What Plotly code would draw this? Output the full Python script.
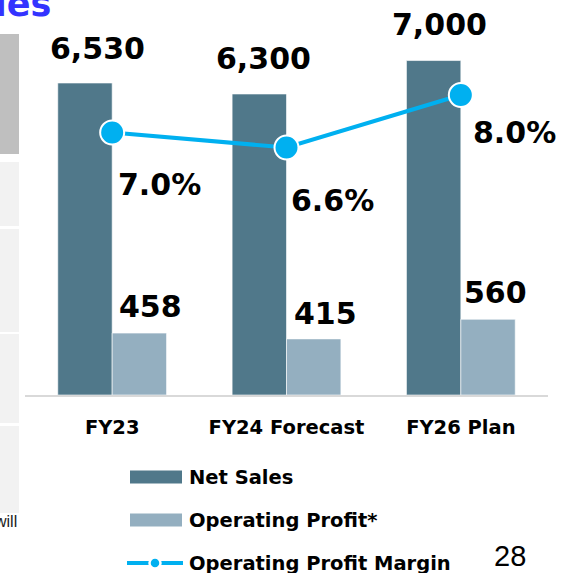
import plotly.graph_objects as go

# --- chart data -------------------------------------------------------------
categories = ["FY23", "FY24 Forecast", "FY26 Plan"]
net_sales = [6530, 6300, 7000]
operating_profit = [458, 415, 560]
op_margin = [7.0, 6.6, 8.0]
sales_labels = ["6,530", "6,300", "7,000"]
profit_labels = ["458", "415", "560"]
margin_labels = ["7.0%", "6.6%", "8.0%"]

# --- styling ----------------------------------------------------------------
W, H = 564, 573
PLOT_L, PLOT_R, PLOT_T, PLOT_B = 25, 548, 10, 395   # plot area in pixels
DARK = "#50788A"
LIGHT = "#94AFC0"
CYAN = "#00B0F0"
FONT = "DejaVu Sans"
BAR_W = 0.312

# label nudges (pixels, relative to category centre / mark top)
sales_dx = [-15, -23, -21]
sales_dy = [35, 35, 36]
profit_dx = [38, 39, 35]
profit_dy = [27, 25, 27]
margin_dx = [47, 46, 54]
margin_dy = [-52, -53, -37]


def px2x(px):
    return (px - PLOT_L) / (PLOT_R - PLOT_L)


def px2y(py):
    return (PLOT_B - py) / (PLOT_B - PLOT_T)


plot_h = PLOT_B - PLOT_T
sales_max = plot_h / 0.04778
profit_max = plot_h / 0.1352
margin_max = plot_h / 37.5

fig = go.Figure()

fig.add_trace(go.Bar(
    x=categories, y=net_sales, name="Net Sales",
    width=BAR_W, offset=-BAR_W,
    marker=dict(color=DARK, line=dict(color="white", width=0.6)),
    yaxis="y",
))
fig.add_trace(go.Bar(
    x=categories, y=operating_profit, name="Operating Profit*",
    width=BAR_W, offset=0,
    marker=dict(color=LIGHT, line=dict(color="white", width=0.6)),
    yaxis="y2",
))
fig.add_trace(go.Scatter(
    x=categories, y=op_margin, name="Operating Profit Margin",
    mode="lines+markers",
    line=dict(color=CYAN, width=4),
    marker=dict(size=24, color=CYAN, line=dict(color="white", width=2)),
    cliponaxis=False,
    yaxis="y3",
))

annotations = []
label_font = dict(family=FONT, size=30, color="black", weight="bold")
for i, cat in enumerate(categories):
    annotations.append(dict(
        x=cat, y=net_sales[i], xref="x", yref="y", text=sales_labels[i],
        showarrow=False, font=label_font, xanchor="center", yanchor="middle",
        xshift=sales_dx[i], yshift=sales_dy[i]))
    annotations.append(dict(
        x=cat, y=operating_profit[i], xref="x", yref="y2", text=profit_labels[i],
        showarrow=False, font=label_font, xanchor="center", yanchor="middle",
        xshift=profit_dx[i], yshift=profit_dy[i]))
    annotations.append(dict(
        x=cat, y=op_margin[i], xref="x", yref="y3", text=margin_labels[i],
        showarrow=False, font=label_font, xanchor="center", yanchor="middle",
        xshift=margin_dx[i], yshift=margin_dy[i]))

# legend, drawn below the axis
legend_font = dict(family=FONT, size=19.5, color="black", weight="bold")
shapes = []
legend_rows = [("Net Sales", 477, DARK), ("Operating Profit*", 520, LIGHT)]
for text, yc, col in legend_rows:
    shapes.append(dict(type="rect", xref="paper", yref="paper",
                       x0=px2x(130), x1=px2x(182), y0=px2y(yc - 6.5), y1=px2y(yc + 6.5),
                       fillcolor=col, line=dict(width=0)))
    annotations.append(dict(x=px2x(187), y=px2y(yc), xref="paper", yref="paper",
                            text=text, showarrow=False, font=legend_font,
                            xanchor="left", yanchor="middle"))
yc = 563
shapes.append(dict(type="line", xref="paper", yref="paper",
                   x0=px2x(127), x1=px2x(183), y0=px2y(yc), y1=px2y(yc),
                   line=dict(color=CYAN, width=4)))
shapes.append(dict(type="circle", xref="paper", yref="paper",
                   x0=px2x(149.5), x1=px2x(160.5), y0=px2y(yc + 5.5), y1=px2y(yc - 5.5),
                   fillcolor=CYAN, line=dict(color="white", width=2.5)))
annotations.append(dict(x=px2x(187), y=px2y(yc), xref="paper", yref="paper",
                        text="Operating Profit Margin", showarrow=False,
                        font=legend_font, xanchor="left", yanchor="middle"))

# slide surroundings: title tail, side table, page number
annotations.append(dict(x=px2x(53), y=px2y(26), xref="paper", yref="paper",
                        text="Sales", showarrow=False,
                        font=dict(family=FONT, size=35, color="#3333FF", weight="bold"),
                        xanchor="right", yanchor="bottom"))
annotations.append(dict(x=px2x(19), y=px2y(521), xref="paper", yref="paper",
                        text="will", showarrow=False,
                        font=dict(family="Liberation Sans", size=16, color="#222222"),
                        xanchor="right", yanchor="middle"))
annotations.append(dict(x=px2x(510), y=px2y(556), xref="paper", yref="paper",
                        text="28", showarrow=False,
                        font=dict(family="Liberation Sans", size=29, color="black"),
                        xanchor="center", yanchor="middle"))

side_boxes = [(34, 154, "#BFBFBF"), (162, 226, "#F2F2F2"), (229, 332, "#F2F2F2"),
              (334, 423, "#F2F2F2"), (426, 513, "#F2F2F2")]
for top, bottom, col in side_boxes:
    shapes.append(dict(type="rect", xref="paper", yref="paper", layer="below",
                       x0=px2x(-2), x1=px2x(19), y0=px2y(bottom), y1=px2y(top),
                       fillcolor=col, line=dict(width=0)))

fig.update_layout(
    width=W, height=H,
    margin=dict(l=PLOT_L, r=W - PLOT_R, t=PLOT_T, b=H - PLOT_B, pad=0),
    paper_bgcolor="white", plot_bgcolor="white",
    showlegend=False,
    barmode="overlay",
    xaxis=dict(range=[-0.5, 2.5], showline=True, linecolor="#D9D9D9", linewidth=2,
               showgrid=False, zeroline=False, ticks="", ticklabelstandoff=14,
               tickfont=dict(family=FONT, size=19.5, color="black", weight="bold")),
    yaxis=dict(range=[0, sales_max], visible=False),
    yaxis2=dict(range=[0, profit_max], overlaying="y", visible=False),
    yaxis3=dict(range=[0, margin_max], overlaying="y", visible=False),
    annotations=annotations,
    shapes=shapes,
)

fig.write_html("out.html")
